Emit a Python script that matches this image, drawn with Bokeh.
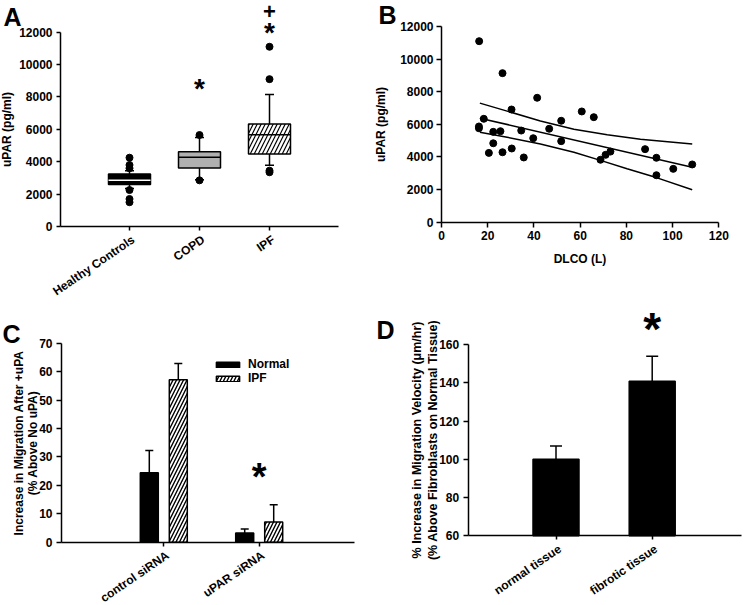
from bokeh.plotting import figure
from bokeh.layouts import row, column
from bokeh.models import Label, FixedTicker, Legend, LegendItem, Range1d
from bokeh.embed import file_html
from bokeh.resources import INLINE

FONT = "Liberation Sans"

# ---------------- Panel A : serum uPAR by group (box plot) ----------------
a_groups = ["Healthy Controls", "COPD", "IPF"]
a_q1 = [2600, 3620, 4480]
a_median = [2850, 4280, 5670]
a_q3 = [3250, 4620, 6330]
a_whisker_low = [2350, 2880, 3780]
a_whisker_high = [3450, 5500, 8150]
a_outlier_group = ["Healthy Controls"] * 6 + ["COPD"] * 2 + ["IPF"] * 4
a_outlier_value = [4250, 3800, 3600, 2250, 1700, 1500, 5650, 2850, 11100, 9100, 3450, 3350]
a_sig_group = ["COPD", "IPF", "IPF"]
a_sig_symbol = ["*", "*", "+"]
a_sig_value = [8700, 12170, 13280]
a_y_ticks = [0, 2000, 4000, 6000, 8000, 10000, 12000]

# ---------------- Panel B : uPAR vs DLCO ----------------
b_dlco = [16.3, 26.4, 41.4, 30.3, 60.7, 65.9, 51.8, 18.3, 16.2, 16.2, 22.4, 25.5, 34.5,
          46.6, 39.7, 51.8, 22.4, 20.5, 26.4, 30.4, 35.6, 68.8, 71.0, 73.1, 88.1, 93.0,
          93.0, 100.3, 108.5]
b_upar = [11100, 9140, 7630, 6910, 6790, 6440, 6220, 6340, 5870, 5760, 5540, 5580, 5620,
          5730, 5150, 4970, 4840, 4250, 4290, 4520, 3970, 3830, 4130, 4330, 4480, 3950,
          2880, 3270, 3540]
b_fit_dlco = [16.6, 108.5]
b_fit_upar = [6380, 3370]
b_ci_hi_dlco = [16.6, 28.4, 42.8, 57.3, 71.7, 86.1, 108.5]
b_ci_hi_upar = [7300, 6810, 6200, 5700, 5360, 5090, 4800]
b_ci_lo_dlco = [16.6, 28.4, 42.8, 57.3, 68.8, 80.3, 93.3, 108.5]
b_ci_lo_upar = [5520, 5210, 4800, 4290, 3790, 3280, 2720, 1990]
b_x_ticks = [0, 20, 40, 60, 80, 100, 120]
b_y_ticks = [0, 2000, 4000, 6000, 8000, 10000, 12000]

# ---------------- Panel C : migration after +uPA ----------------
c_groups = ["control siRNA", "uPAR siRNA"]
c_series = ["Normal", "IPF"]
c_normal = [24.4, 3.2]
c_normal_err = [7.9, 1.4]
c_ipf = [57.1, 7.1]
c_ipf_err = [5.8, 6.1]
c_sig_group = ["uPAR siRNA"]
c_sig_value = [24.4]
c_y_ticks = [0, 10, 20, 30, 40, 50, 60, 70]

# ---------------- Panel D : migration velocity ----------------
d_groups = ["normal tissue", "fibrotic tissue"]
d_velocity = [100.0, 140.8]
d_err = [7.0, 13.1]
d_sig_group = ["fibrotic tissue"]
d_sig_value = [170.9]
d_y_ticks = [60, 80, 100, 120, 140, 160]


# ---------------- layout helpers (window pixel geometry) ----------------
class Geo:
    """Canvas box (window px) plus a linear px<->data mapping."""

    def __init__(self, cx, cy, w, h, ax_px, ax_val, kx, ay_px, ay_val, ky):
        self.cx, self.cy, self.w, self.h = cx, cy, w, h
        self.ax_px, self.ax_val, self.kx = ax_px, ax_val, kx
        self.ay_px, self.ay_val, self.ky = ay_px, ay_val, ky

    def x(self, sx):
        return self.ax_val + (sx - self.ax_px) / self.kx

    def y(self, sy):
        return self.ay_val + (self.ay_px - sy) / self.ky


def make_fig(g, yaxis_px, xaxis_val, x_bounds_px, y_bounds):
    p = figure(width=g.w, height=g.h,
               x_range=Range1d(g.x(g.cx), g.x(g.cx + g.w)),
               y_range=Range1d(g.y(g.cy + g.h), g.y(g.cy)),
               output_backend="svg", toolbar_location=None, tools="")
    p.min_border = 0
    p.min_border_left = p.min_border_right = p.min_border_top = p.min_border_bottom = 0
    p.outline_line_color = None
    p.xgrid.visible = False
    p.ygrid.visible = False
    p.background_fill_color = "white"
    p.border_fill_color = "white"
    p.yaxis.fixed_location = g.x(yaxis_px)
    p.xaxis.fixed_location = xaxis_val
    p.xaxis.bounds = (g.x(x_bounds_px[0]), g.x(x_bounds_px[1]))
    p.yaxis.bounds = y_bounds
    for ax in p.axis:
        ax.axis_line_color = "black"
        ax.axis_line_width = 1.5
        ax.major_tick_line_color = "black"
        ax.major_tick_line_width = 1.5
        ax.major_tick_in = 0
        ax.major_tick_out = 5
        ax.minor_tick_line_color = None
        ax.major_label_text_font = FONT
        ax.major_label_text_font_style = "bold"
        ax.major_label_text_font_size = "12px"
        ax.major_label_text_color = "black"
        ax.axis_label_text_font = FONT
        ax.axis_label_text_font_style = "bold"
        ax.axis_label_text_font_size = "12px"
        ax.axis_label_text_color = "black"
    return p


def category_axis(p, g, names, axis_val, gap=6, dx=0.0):
    ticks = [i + 1 for i in range(len(names))]
    p.xaxis.ticker = FixedTicker(ticks=ticks)
    p.xaxis.major_label_overrides = {t: "" for t in ticks}
    p.xaxis.major_tick_out = 4
    for t, name in zip(ticks, names):
        p.add_layout(Label(x=t + dx / g.kx, y=axis_val - gap / g.ky, text=name, angle=0.6,
                           text_align="right", text_baseline="top", text_font=FONT,
                           text_font_style="bold", text_font_size="12px", text_color="black"))


def sig_mark(p, g, x, y_center, sym, size):
    shift = 0.12 * size if sym == "*" else 0.0
    p.add_layout(Label(x=x, y=y_center - shift / g.ky, text=sym, text_align="center",
                       text_baseline="middle", text_font=FONT, text_font_style="bold",
                       text_font_size=f"{size}px", text_color="black"))


def panel_letter(p, g, sx, sy, t):
    p.add_layout(Label(x=g.x(sx), y=g.y(sy), text=t, text_align="left", text_baseline="top",
                       text_font=FONT, text_font_style="bold", text_font_size="25px",
                       text_color="black"))


# ================= Panel A =================
gA = Geo(0, 0, 370, 300, 129, 1, 70, 226, 0, 194.3 / 12000)
pA = make_fig(gA, 60, 0, (60, 338), (0, 12000))
xa = [i + 1 for i in range(len(a_groups))]
box_w = 0.6
cap_a = 4.5 / gA.kx
pA.segment(x0=xa, y0=a_q3, x1=xa, y1=a_whisker_high, line_color="black", line_width=1.5)
pA.segment(x0=xa, y0=a_whisker_low, x1=xa, y1=a_q1, line_color="black", line_width=1.5)
pA.segment(x0=[x - cap_a for x in xa], y0=a_whisker_high, x1=[x + cap_a for x in xa],
           y1=a_whisker_high, line_color="black", line_width=1.5)
pA.segment(x0=[x - cap_a for x in xa], y0=a_whisker_low, x1=[x + cap_a for x in xa],
           y1=a_whisker_low, line_color="black", line_width=1.5)
pA.vbar(x=xa, bottom=a_q1, top=a_q3, width=box_w,
        fill_color=["#000000", "#b0b0b0", "#ffffff"], line_color="black", line_width=1.5,
        hatch_pattern=[" ", " ", "/"], hatch_color="black", hatch_scale=8, hatch_weight=1.2)
pA.segment(x0=[x - box_w / 2 for x in xa], y0=a_median, x1=[x + box_w / 2 for x in xa],
           y1=a_median, line_color=["white", "black", "black"], line_width=1.5)
pA.scatter(x=[a_groups.index(gname) + 1 for gname in a_outlier_group], y=a_outlier_value,
           size=7, color="black")
pA.yaxis.ticker = FixedTicker(ticks=a_y_ticks)
pA.yaxis.axis_label = "uPAR (pg/ml)"
pA.yaxis.major_tick_out = 4
pA.yaxis.major_label_standoff = 4
pA.yaxis.axis_label_standoff = 2
category_axis(pA, gA, a_groups, 0, gap=6, dx=0)
for gname, sym, val in zip(a_sig_group, a_sig_symbol, a_sig_value):
    sig_mark(pA, gA, a_groups.index(gname) + 1, val, sym, 28 if sym == "*" else 22)
panel_letter(pA, gA, 3, 2, "A")

# ================= Panel B =================
gB = Geo(370, 0, 375, 300, 441, 0, 277.3 / 120, 221.7, 0, 195.7 / 12000)
pB = make_fig(gB, 441, 0, (441, 718.3), (0, 12000))
pB.line(b_ci_hi_dlco, b_ci_hi_upar, line_color="black", line_width=1.5)
pB.line(b_fit_dlco, b_fit_upar, line_color="black", line_width=1.5)
pB.line(b_ci_lo_dlco, b_ci_lo_upar, line_color="black", line_width=1.5)
pB.scatter(b_dlco, b_upar, size=7, color="black")
pB.xaxis.ticker = FixedTicker(ticks=b_x_ticks)
pB.yaxis.ticker = FixedTicker(ticks=b_y_ticks)
pB.xaxis.axis_label = "DLCO (L)"
pB.yaxis.axis_label = "uPAR (pg/ml)"
pB.xaxis.major_label_standoff = 4
pB.xaxis.axis_label_standoff = 8
pB.yaxis.major_label_standoff = 3
pB.yaxis.axis_label_standoff = 9
panel_letter(pB, gB, 378, 0, "B")

# ================= Panel C =================
gC = Geo(0, 300, 370, 305, 163.3, 1, 95.4, 541.7, 0, 199 / 70)
pC = make_fig(gC, 61, 0, (61, 354), (0, 70))
xc = [i + 1 for i in range(len(c_groups))]
off_c = 14.5 / gC.kx
bw_c = 18 / gC.kx
cap_c = 4 / gC.kx
xn = [x - off_c for x in xc]
xi = [x + off_c for x in xc]
top_n = [v + e for v, e in zip(c_normal, c_normal_err)]
top_i = [v + e for v, e in zip(c_ipf, c_ipf_err)]
pC.segment(x0=xn, y0=c_normal, x1=xn, y1=top_n, line_color="black", line_width=1.5)
pC.segment(x0=[x - cap_c for x in xn], y0=top_n, x1=[x + cap_c for x in xn], y1=top_n,
           line_color="black", line_width=1.5)
pC.segment(x0=xi, y0=c_ipf, x1=xi, y1=top_i, line_color="black", line_width=1.5)
pC.segment(x0=[x - cap_c for x in xi], y0=top_i, x1=[x + cap_c for x in xi], y1=top_i,
           line_color="black", line_width=1.5)
rn = pC.vbar(x=xn, bottom=0, top=c_normal, width=bw_c, fill_color="black",
             line_color="black", line_width=1.5)
ri = pC.vbar(x=xi, bottom=0, top=c_ipf, width=bw_c, fill_color="white", line_color="black",
             line_width=1.5, hatch_pattern="/", hatch_color="black", hatch_scale=7,
             hatch_weight=1.4)
pC.yaxis.ticker = FixedTicker(ticks=c_y_ticks)
pC.yaxis.axis_label = "Increase in Migration After +uPA\n(% Above No uPA)"
pC.yaxis.axis_label_text_line_height = 1.0
pC.yaxis.major_label_standoff = 4
pC.yaxis.axis_label_standoff = -4
category_axis(pC, gC, c_groups, 0, gap=6, dx=0)
for gname, val in zip(c_sig_group, c_sig_value):
    sig_mark(pC, gC, c_groups.index(gname) + 1, val, "*", 38)
legC = Legend(items=[LegendItem(label=c_series[0], renderers=[rn]),
                     LegendItem(label=c_series[1], renderers=[ri])],
              location=(213, 220), orientation="vertical", glyph_width=29, glyph_height=7,
              label_standoff=6, spacing=0, padding=0, margin=0, label_height=7,
              border_line_color=None, background_fill_alpha=0,
              label_text_font=FONT, label_text_font_style="bold", label_text_font_size="12px",
              label_text_color="black")
pC.add_layout(legC)
panel_letter(pC, gC, 2, 319, "C")

# ================= Panel D =================
gD = Geo(370, 300, 375, 305, 555.5, 1, 96.2, 535.3, 60, 191.3 / 100)
pD = make_fig(gD, 467.7, 60, (467.7, 741), (60, 160))
xd = [i + 1 for i in range(len(d_groups))]
bw_d = 46 / gD.kx
cap_d = 6 / gD.kx
top_d = [v + e for v, e in zip(d_velocity, d_err)]
pD.segment(x0=xd, y0=d_velocity, x1=xd, y1=top_d, line_color="black", line_width=1.5)
pD.segment(x0=[x - cap_d for x in xd], y0=top_d, x1=[x + cap_d for x in xd], y1=top_d,
           line_color="black", line_width=1.5)
pD.vbar(x=xd, bottom=60, top=d_velocity, width=bw_d, fill_color="black", line_color="black",
        line_width=1.5)
pD.yaxis.ticker = FixedTicker(ticks=d_y_ticks)
pD.yaxis.axis_label = ("% Increase in Migration Velocity (\u03bcm/hr)\n"
                       "(% Above Fibroblasts on Normal Tissue)")
pD.yaxis.axis_label_text_font_size = "12.5px"
pD.yaxis.major_label_standoff = 4
pD.yaxis.axis_label_standoff = -4
category_axis(pD, gD, d_groups, 60, gap=6, dx=0)
for gname, val in zip(d_sig_group, d_sig_value):
    sig_mark(pD, gD, d_groups.index(gname) + 1, val, "*", 46)
panel_letter(pD, gD, 376, 315, "D")

layout = column(row(pA, pB), row(pC, pD))
open("out.html", "w").write(file_html(layout, INLINE))
